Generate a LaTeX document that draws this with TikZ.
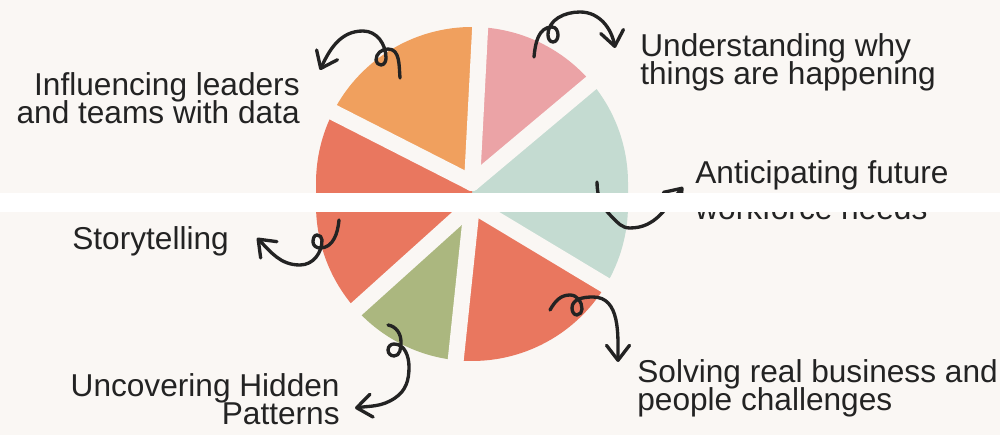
\documentclass[tikz,border=0pt]{standalone}
\usepackage{fontspec}
\setmainfont{Liberation Sans}
\usepackage{xcolor}
\usepackage{tikz}
\usetikzlibrary{arrows.meta}

\definecolor{paper}{HTML}{FAF7F4}
\definecolor{ink}{HTML}{232323}
\definecolor{orangeslice}{HTML}{F0A05E}
\definecolor{pinkslice}{HTML}{EBA3A6}
\definecolor{sageslice}{HTML}{C4DBD1}
\definecolor{coralslice}{HTML}{E9775F}
\definecolor{oliveslice}{HTML}{ABB77F}

% tight leading for the labels
\newcommand\labelfont{\fontsize{18}{16.5}\selectfont\lineskiplimit-20pt\relax}

\begin{document}
\begin{tikzpicture}[
    x=0.02cm, y=0.02cm,
    gap/.style={draw=paper, line width=0.32cm, line cap=round},
    curl/.style={draw=ink, line width=1.9pt, line cap=round, line join=round,
        -{Straight Barb[length=3mm, width=4.6mm, round]}},
    label/.style={text=ink, inner sep=0pt, font=\labelfont}
]
    \useasboundingbox[fill=paper] (0,0) rectangle (1000,435);
    \coordinate (c1) at (472,252);
    \coordinate (c2) at (472,230);

    % Slices
    \fill[orangeslice] (c1) -- ++(87:156) arc[start angle=87, end angle=153, radius=156] -- cycle;
    \fill[pinkslice] (c1) -- ++(40:156) arc[start angle=40, end angle=87, radius=156] -- cycle;
    \fill[sageslice] (c1) -- ++(40:156) arc[start angle=40, end angle=0, radius=156]
        -- ++(0,-22) arc[start angle=0, end angle=-31, radius=156] -- (c2) -- cycle;
    \fill[coralslice] (c2) -- ++(-31:156) arc[start angle=-31, end angle=-96, radius=156] -- cycle;
    \fill[oliveslice] (c2) -- ++(-96:156) arc[start angle=-96, end angle=-138, radius=156] -- cycle;
    \fill[coralslice] (c1) -- ++(153:156) arc[start angle=153, end angle=180, radius=156]
        -- ++(0,-22) arc[start angle=180, end angle=222, radius=156] -- (c2) -- cycle;

    % Gaps
    \draw[gap] (c1) -- ++(87:175);
    \draw[gap] (c1) -- ++(40:175);
    \draw[gap] (c1) -- ++(153:175);
    \draw[gap] (c2) -- ++(-31:175);
    \draw[gap] (c2) -- ++(-96:175);
    \draw[gap] (c2) -- ++(-138:175);

    % Labels (anchored on the baseline of their last line)
    \node[label, anchor=base east, align=right] (infl) at (300,311)
        {Influencing leaders\\and teams with data};
    \node[label, anchor=base west, align=left] (under) at (640,350)
        {Understanding why\\things are happening};
    \node[label, anchor=base west, align=left] (antic) at (695,215)
        {Anticipating future\\[4.5pt]workforce needs};
    \node[label, anchor=base west] (story) at (72,185) {Storytelling};
    \node[label, anchor=base east, align=right] (uncov) at (340,10)
        {Uncovering Hidden\\Patterns};
    \node[label, anchor=base west, align=left] (solve) at (637,24)
        {Solving real business and\\people challenges};

    % Curly arrows
    \coordinate (infl-start) at (400,357);
    \coordinate (infl-tip) at (320,365);
    \draw[curl] (infl-start) to[out=95,in=0] (388,386) to[out=180,in=90] (376,375)
        to[out=-90,in=180] (381,370) to[out=0,in=-90] (386,377)
        to[out=90,in=0] (363,404) to[out=180,in=65] (infl-tip);

    \coordinate (under-start) at (534,378);
    \coordinate (under-tip) at (615,387);
    \draw[curl] (under-start) to[out=85,in=180] (552,408) to[out=0,in=90] (558,400)
        to[out=-90,in=0] (553,393) to[out=180,in=-90] (548,400)
        to[out=90,in=180] (580,423) to[out=0,in=100] (under-tip);

    \coordinate (antic-start) at (597,253);
    \coordinate (antic-tip) at (683,248);
    \draw[curl] (antic-start) to[out=-90,in=135] (612,218) to[out=-45,in=180] (630,207)
        to[out=0,in=-130] (antic-tip);

    \coordinate (story-start) at (339,215);
    \coordinate (story-tip) at (257,197);
    \draw[curl] (story-start) to[out=-95,in=0] (320,187) to[out=180,in=-90] (313,193)
        to[out=90,in=180] (317,200) to[out=0,in=90] (322,195)
        to[out=-90,in=0] (300,170) to[out=180,in=-45] (story-tip);

    \coordinate (uncov-start) at (388,110);
    \coordinate (uncov-tip) at (355,27);
    \draw[curl] (uncov-start) to[out=-10,in=90] (401,93) to[out=-90,in=0] (394,79)
        to[out=180,in=-90] (388,85) to[out=90,in=180] (394,91)
        to[out=0,in=90] (409,68) to[out=-90,in=34] (395,37) to[out=214,in=8] (uncov-tip);

    \coordinate (solve-start) at (550,125);
    \coordinate (solve-tip) at (618,73);
    \draw[curl] (solve-start) to[out=60,in=180] (570,140) to[out=0,in=90] (582,126)
        to[out=-90,in=0] (577,120) to[out=180,in=-90] (572,127)
        to[out=90,in=180] (593,138) to[out=0,in=90] (solve-tip);

    % White strip across the picture
    \fill[white] (0,223) rectangle (1000,242);
\end{tikzpicture}
\end{document}
